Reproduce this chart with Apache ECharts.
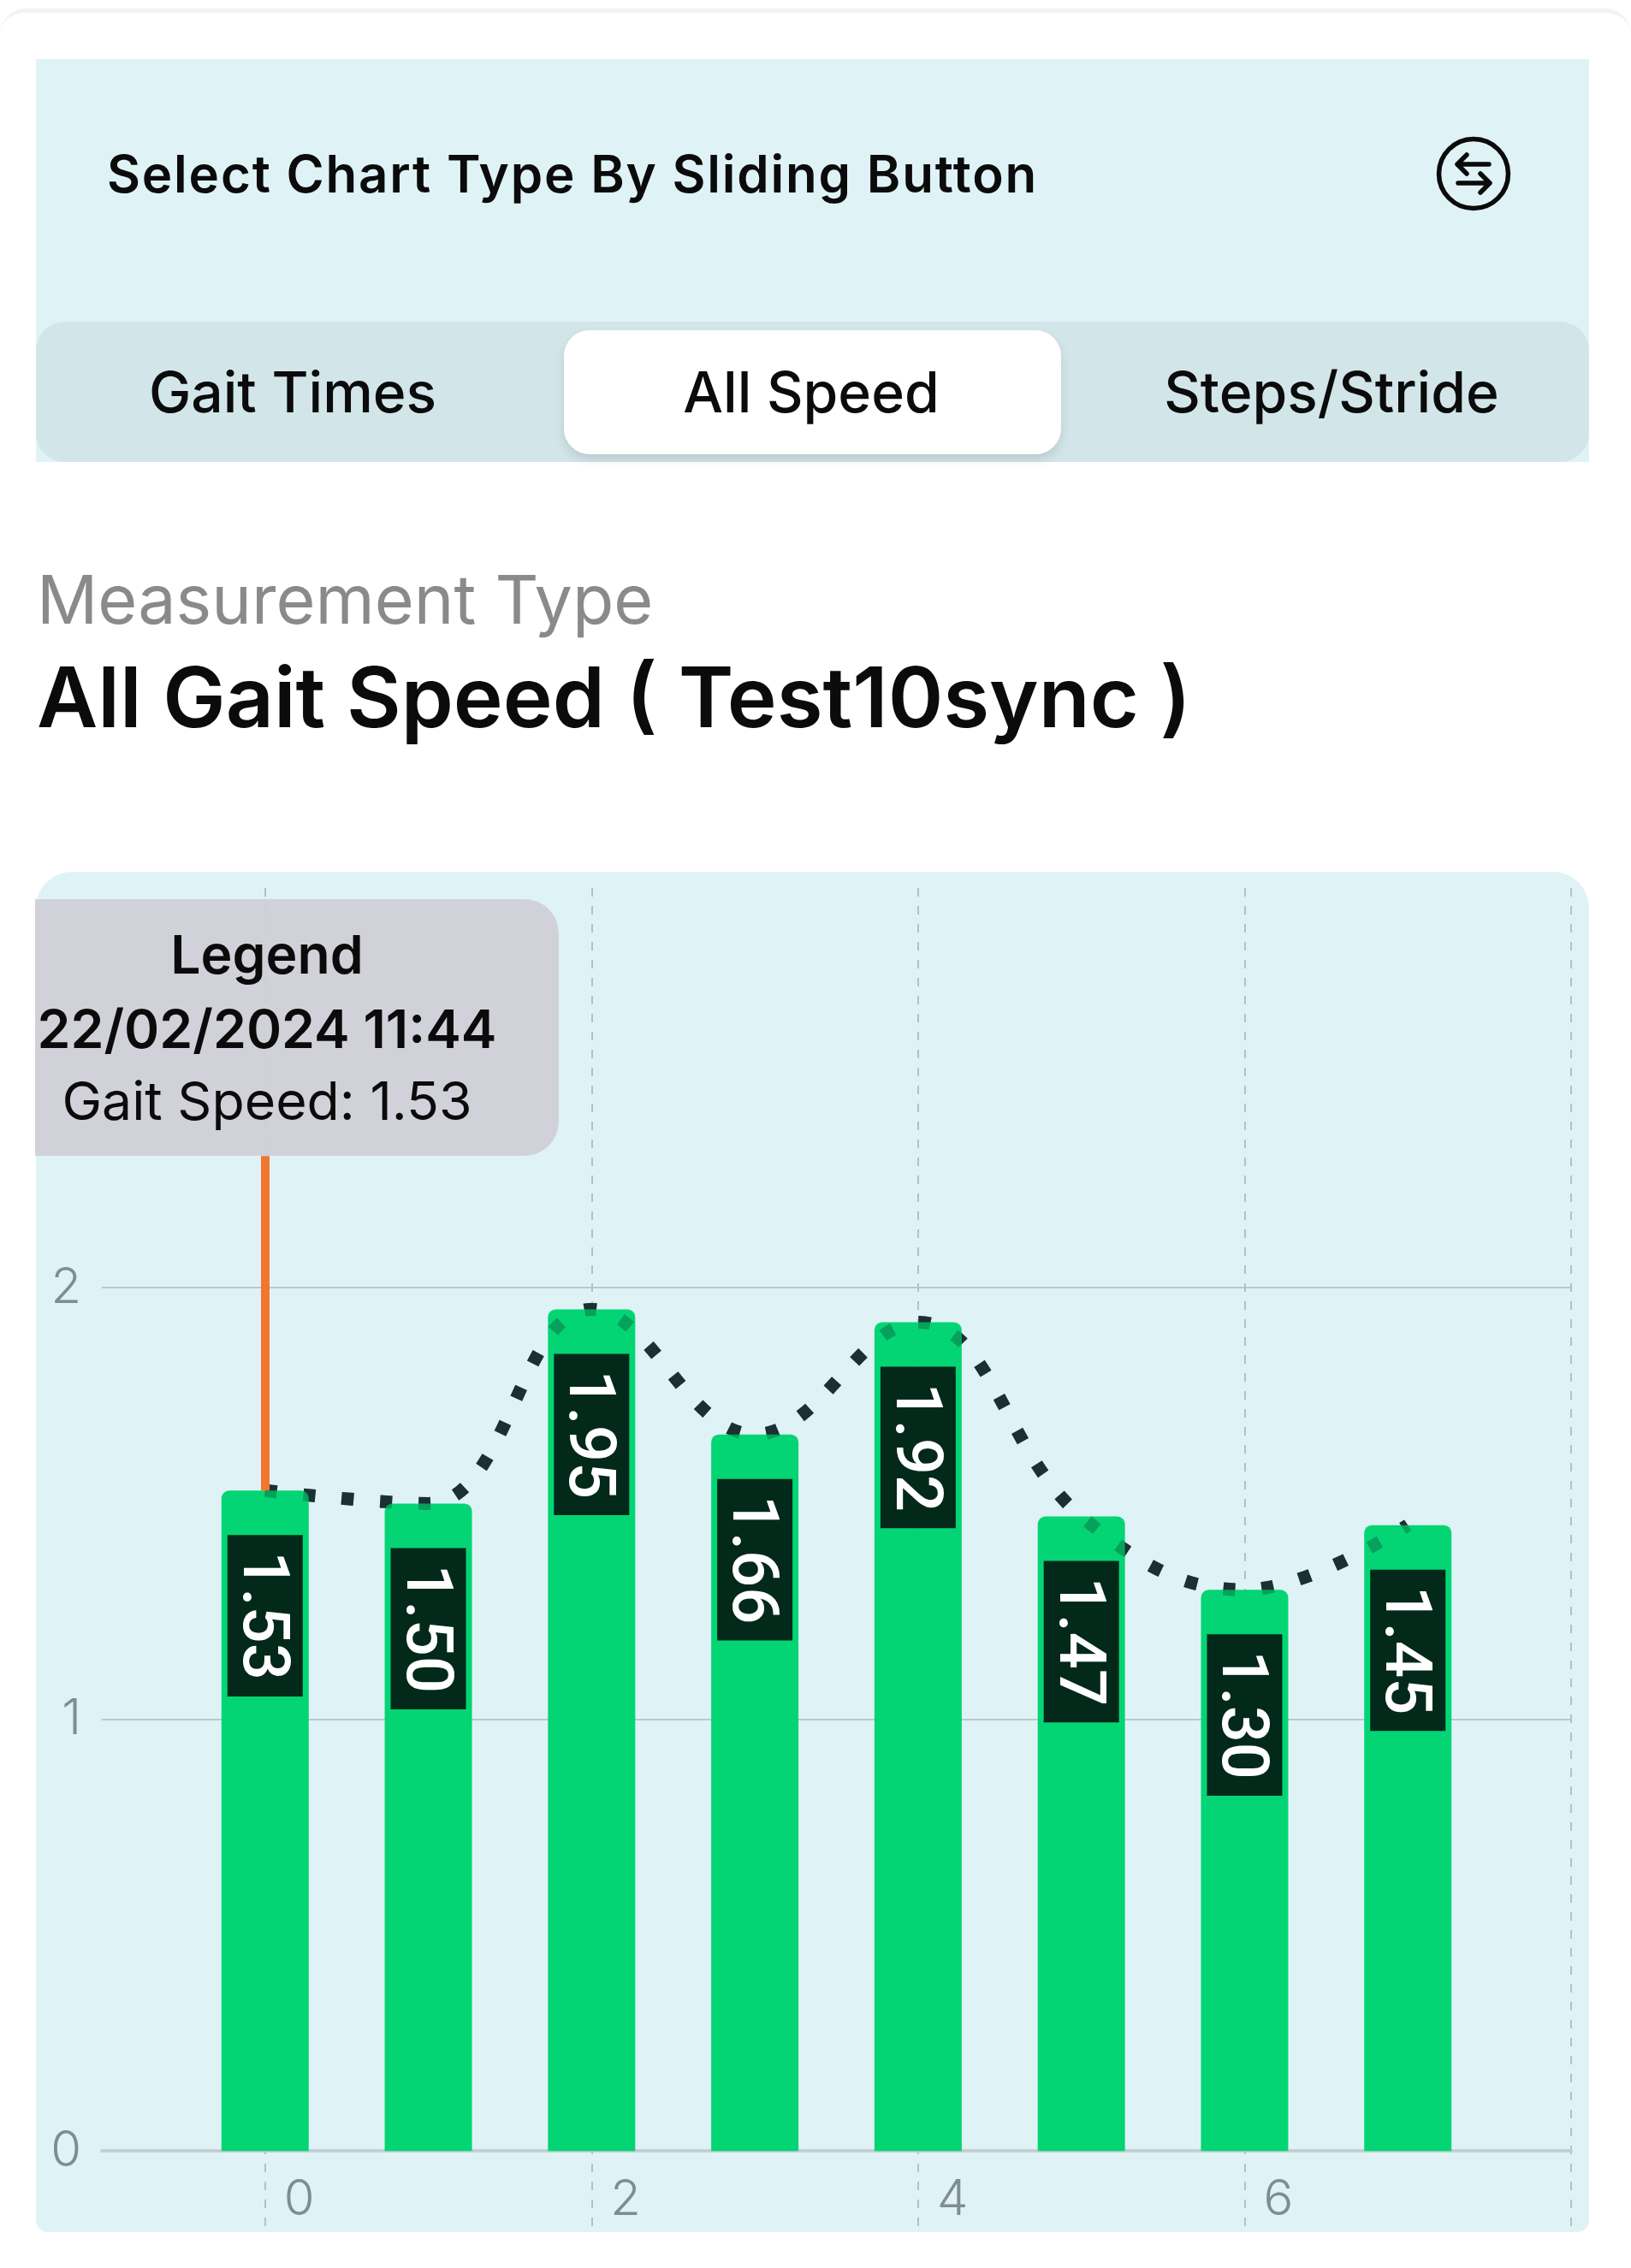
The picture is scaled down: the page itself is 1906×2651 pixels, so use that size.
<!DOCTYPE html>
<html>
<head>
<meta charset="utf-8">
<title>All Gait Speed</title>
<script src="https://cdn.jsdelivr.net/npm/echarts@6/dist/echarts.min.js"></script>
<style>
  html, body { margin: 0; padding: 0; background: #fff; }
  body { width: 1906px; height: 2651px; position: relative; overflow: hidden; font-family: Inter, "Noto Sans", sans-serif; color: #0b0b0b; }
  .abs { position: absolute; white-space: nowrap; }
  #edge { left: 0; top: 10px; width: 1906px; height: 60px; border-top: 5px solid #f3f3f5; border-radius: 30px 30px 0 0; box-sizing: border-box; }
  #topPanel { left: 42px; top: 69px; width: 1815px; height: 471px; background: #dff3f6; }
  #tabBar { left: 42px; top: 376px; width: 1815px; height: 164px; background: #d2e6e9; border-radius: 34px; }
  #tabOn { left: 659px; top: 386px; width: 581px; height: 145px; background: #fff; border-radius: 30px; box-shadow: 0 6px 12px rgba(0,0,0,.12); }
  .tab { top: 458px; transform: translate(-50%, -50%); font-size: 66px; font-weight: 500; line-height: 1; }
  #pick { left: 125px; top: 203px; transform: translateY(-50%); font-size: 60px; font-weight: 600; line-height: 1; letter-spacing: 1.8px; }
  #kind { left: 43px; top: 700px; transform: translateY(-50%); font-size: 79px; font-weight: 400; color: #8a8a8a; line-height: 1; }
  #title { left: 43px; top: 815px; transform: translateY(-50%); font-size: 98px; font-weight: 600; line-height: 1; }
  #icon { left: 1678px; top: 159px; }
  #chartPanel { left: 42px; top: 1019px; width: 1815px; height: 1590px; background: #dff3f6; border-radius: 42px 42px 14px 14px; }
  #chart { left: 0; top: 0; width: 1906px; height: 2651px; }
</style>
</head>
<body>
<div class="abs" id="edge"></div>
<div class="abs" id="topPanel"></div>
<div class="abs" id="pick">Select Chart Type By Sliding Button</div>
<svg class="abs" id="icon" width="88" height="88" viewBox="0 0 88 88" fill="none" stroke="#0b0b0b" stroke-width="5.5" stroke-linecap="round" stroke-linejoin="round">
  <circle cx="44" cy="44" r="40.5"/>
  <path d="M62 33H26M36 22L25 33L36 44"/>
  <path d="M26 55H62M52 44L63 55L52 66"/>
</svg>
<div class="abs" id="tabBar"></div>
<div class="abs" id="tabOn"></div>
<div class="abs tab" style="left:342px">Gait Times</div>
<div class="abs tab" style="left:948px">All Speed</div>
<div class="abs tab" style="left:1556px">Steps/Stride</div>
<div class="abs" id="kind">Measurement Type</div>
<div class="abs" id="title">All Gait Speed ( Test10sync )</div>
<div class="abs" id="chartPanel"></div>
<div class="abs" id="chart"></div>

<script>
// values
var sessions = [0, 1, 2, 3, 4, 5, 6, 7];
var gaitSpeed = [1.53, 1.50, 1.95, 1.66, 1.92, 1.47, 1.30, 1.45];
var xGridValues = [0, 2, 4, 6, 8];
var xTickLabels = [0, 2, 4, 6];
var yTickLabels = [0, 1, 2];
var legendLines = ['Legend', '22/02/2024 11:44', 'Gait Speed: 1.53'];
var selectedIndex = 0;
var calloutTop = 2.305;

function pairs(vals) {
  return sessions.map(function (s, i) { return [s, vals[i]]; });
}

var chart = echarts.init(document.getElementById('chart'), null, { renderer: 'canvas' });

chart.setOption({
  animation: false,
  backgroundColor: 'transparent',
  grid: { left: 119, right: 70, top: 1038, bottom: 45, outerBoundsMode: 'none' },
  xAxis: {
    type: 'value',
    min: -1,
    max: 8,
    axisLine: { onZero: true, lineStyle: { color: '#c3d0d3', width: 4 } },
    axisTick: { show: false, customValues: xGridValues },
    axisLabel: {
      customValues: xTickLabels,
      color: '#7f8c92',
      fontFamily: 'Inter',
      fontSize: 58,
      fontWeight: 300,
      margin: -63,
      align: 'left',
      padding: [0, 0, 0, 22]
    },
    splitLine: { show: true, lineStyle: { color: '#b5c0c4', width: 2, type: [10, 11] } }
  },
  yAxis: {
    type: 'value',
    min: -0.182,
    max: 2.926,
    axisLine: { show: false },
    axisTick: { show: false, customValues: yTickLabels },
    axisLabel: {
      customValues: yTickLabels,
      color: '#7f8c92',
      fontFamily: 'Inter',
      fontSize: 58,
      fontWeight: 300,
      margin: 24,
      padding: [6, 0, 0, 0]
    },
    splitLine: { show: true, lineStyle: { color: '#b9c9cc', width: 2 } }
  },
  series: [
    {
      type: 'line',
      z: 1,
      smooth: 0.4,
      showSymbol: false,
      data: pairs(gaitSpeed),
      lineStyle: { color: '#1f2c33', width: 15, type: [14, 31] },
      markLine: {
        silent: true,
        symbol: 'none',
        label: { show: false },
        lineStyle: { color: '#f2762e', width: 10, type: 'solid' },
        data: [[
          { coord: [sessions[selectedIndex], gaitSpeed[selectedIndex]] },
          { coord: [sessions[selectedIndex], calloutTop] }
        ]]
      }
    },
    {
      type: 'bar',
      z: 2,
      barWidth: 102,
      data: pairs(gaitSpeed),
      itemStyle: { color: 'rgba(0,212,114,0.985)', borderRadius: [9, 9, 0, 0] },
      label: {
        show: true,
        position: 'insideTop',
        distance: 48,
        offset: [4, 0],
        rotate: -90,
        align: 'left',
        verticalAlign: 'middle',
        formatter: function (p) { return '{val|' + p.value[1].toFixed(2) + '}'; },
        padding: [0, 19],
        backgroundColor: '#03291a',
        rich: {
          val: {
            color: '#fff',
            fontFamily: 'Roboto',
            fontWeight: 500,
            fontSize: 76,
            lineHeight: 88,
            verticalAlign: 'bottom'
          }
        }
      }
    },
    {
      // same dots, showing faintly where they pass behind the bars
      type: 'line',
      z: 3,
      smooth: 0.4,
      showSymbol: false,
      data: pairs(gaitSpeed),
      lineStyle: { color: 'rgba(20,60,50,0.32)', width: 15, type: [14, 31] }
    }
  ],
  graphic: [
    {
      type: 'rect',
      z: 10,
      shape: { x: 41, y: 1051, width: 612, height: 300, r: [0, 40, 40, 0] },
      style: { fill: 'rgba(208,207,214,0.93)' }
    },
    {
      type: 'text', z: 11, x: 312, y: 1119,
      style: { text: legendLines[0], font: '600 62.5px Inter', fill: '#0b0b0b', align: 'center', verticalAlign: 'middle' }
    },
    {
      type: 'text', z: 11, x: 312, y: 1206,
      style: { text: legendLines[1], font: '600 62.5px Inter', fill: '#0b0b0b', align: 'center', verticalAlign: 'middle' }
    },
    {
      type: 'text', z: 11, x: 312, y: 1290,
      style: { text: legendLines[2], font: '400 62.5px Inter', fill: '#0b0b0b', align: 'center', verticalAlign: 'middle' }
    }
  ]
});
</script>
</body>
</html>
